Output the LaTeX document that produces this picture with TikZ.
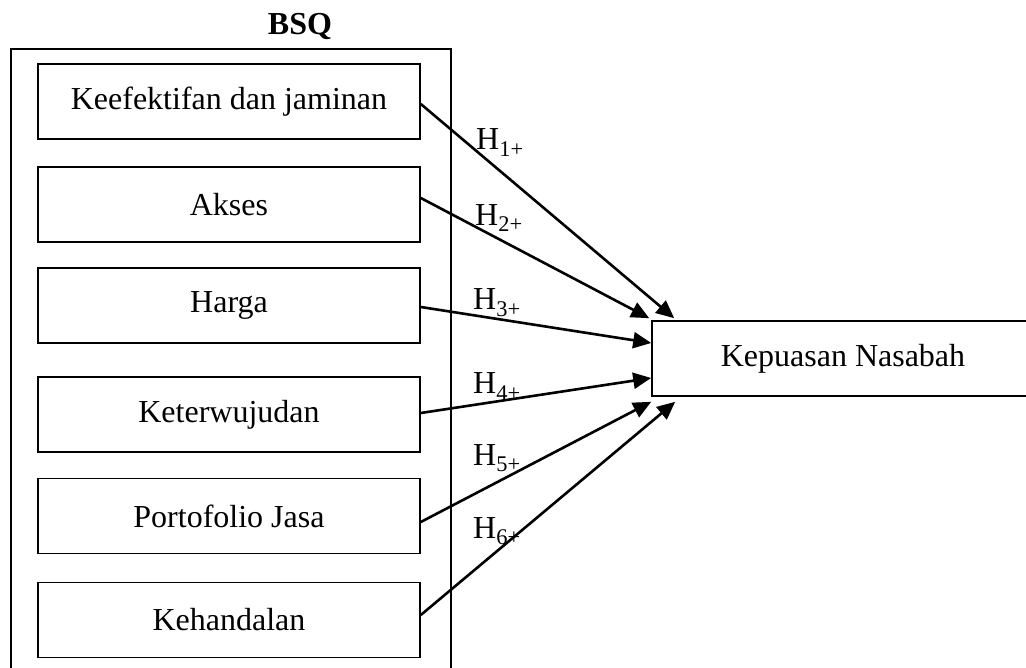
\documentclass[tikz,border=0pt]{standalone}
\usepackage{fontspec}
\setmainfont{Liberation Serif}
\usetikzlibrary{arrows.meta,calc}
\begin{document}
\begin{tikzpicture}[x=1pt,y=-1pt,
  boxst/.style={draw,line width=1.6pt,minimum width=382pt,minimum height=75pt,inner sep=0pt,font=\fontsize{32}{38}\selectfont},
  arr/.style={line width=2.6pt,-{Triangle[length=18pt,width=16pt]}},
  hlab/.style={anchor=base west,inner sep=0pt,font=\fontsize{32}{38}\selectfont}]
\useasboundingbox (0,0) rectangle (1026,668);
\draw[line width=1.6pt] (11,690) -- (11,49) -- (451,49) -- (451,690);
\node[font=\bfseries\fontsize{32}{38}\selectfont] (bsq) at (300,27) {BSQ};
\node[boxst] (b1) at (229,101.5) {Keefektifan dan jaminan};
\node[boxst] (b2) at (229,204.5) {Akses};
\node[boxst] (b3) at (229,305.5) {Harga};
\node[boxst] (b4) at (229,414.5) {Keterwujudan};
\node[boxst] (b5) at (229,516) {Portofolio Jasa};
\node[boxst] (b6) at (229,620) {Kehandalan};
\node[boxst] (kep) at (843,358.5) {Kepuasan Nasabah};
\coordinate (t1) at ($(kep.north west)+(23,-2)$);
\coordinate (t2) at ($(kep.north west)+(-2,-2)$);
\coordinate (t3) at ($(kep.west)+(0,-15.5)$);
\coordinate (t4) at ($(kep.west)+(0,19.5)$);
\coordinate (t5) at ($(kep.south west)+(0,5)$);
\coordinate (t6) at ($(kep.south west)+(24,5)$);
\draw[arr] ($(b1.east)+(0,2.5)$) -- (t1);
\draw[arr] ($(b2.east)+(0,-6.5)$) -- (t2);
\draw[arr] ($(b3.east)+(0,1.5)$) -- (t3);
\draw[arr] ($(b4.east)+(0,-1.5)$) -- (t4);
\draw[arr] ($(b5.east)+(0,6)$) -- (t5);
\draw[arr] ($(b6.east)+(0,-5)$) -- (t6);
\node[hlab] (h1) at (476,150) {H\textsubscript{1+}};
\node[hlab] (h2) at (475,225.5) {H\textsubscript{2+}};
\node[hlab] (h3) at (473,310) {H\textsubscript{3+}};
\node[hlab] (h4) at (473,394) {H\textsubscript{4+}};
\node[hlab] (h5) at (473,465) {H\textsubscript{5+}};
\node[hlab] (h6) at (473,538) {H\textsubscript{6+}};
\end{tikzpicture}
\end{document}
